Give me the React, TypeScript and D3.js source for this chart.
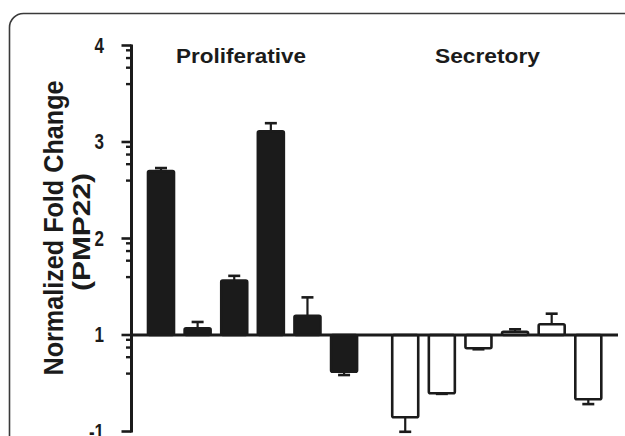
import React from "react";
import * as d3 from "d3";

// ---- data (axis units: tick positions 0..4 labelled -1,1,2,3,4) ----
const categories = ["P1", "P2", "P3", "P4", "P5", "P6", "S1", "S2", "S3", "S4", "S5", "S6"];
const groups = ["Proliferative", "Proliferative", "Proliferative", "Proliferative", "Proliferative", "Proliferative",
  "Secretory", "Secretory", "Secretory", "Secretory", "Secretory", "Secretory"];
const values = [2.70, 1.07, 1.563, 3.11, 1.20, 0.62, 0.147, 0.396, 0.862, 1.034, 1.111, 0.334];
const errors = [0.03, 0.065, 0.05, 0.085, 0.19, 0.035, 0.15, 0.006, 0.01, 0.025, 0.11, 0.05];
const slots = [0, 1, 2, 3, 4, 5, 6.67, 7.67, 8.67, 9.67, 10.67, 11.67];
const tickValues = [0, 1, 2, 3, 4];
const tickLabels = ["-1", "1", "2", "3", "4"];
const minorOffsets = [0.05, 0.13, 0.23, 0.4];
const groupLabels = ["Proliferative", "Secretory"];
const baselineValue = 1;

export default function App() {
  const W = 625, H = 436;
  const y = d3.scaleLinear().domain([0, 4]).range([431.5, 45.5]);
  const x = d3.scaleLinear().domain([0, 11.67]).range([161, 588.3]);
  const bw = 26;
  const axisX = 131.5;
  const dark = "#1b1b1b";
  const font = "'Liberation Sans', Arial, sans-serif";

  const minorTicks: number[] = [];
  for (let t = 1; t < tickValues.length; t++) {
    for (const o of minorOffsets) minorTicks.push(tickValues[t] - o);
  }

  const y0 = y(baselineValue);

  return (
    <svg width={W} height={H} style={{ position: "absolute", left: 0, top: 0, background: "#fff" }}>
      {/* frame */}
      <rect x={9.5} y={13.5} width={660} height={480} rx={14} ry={14} fill="none" stroke="#3a3a3a" strokeWidth={1.6} />

      {/* bars */}
      {categories.map((c, i) => {
        const v = values[i];
        const cx = x(slots[i]);
        const up = v >= baselineValue;
        const yTop = up ? y(v) : y0;
        const yBot = up ? y0 : y(v);
        const black = groups[i] === "Proliferative";
        const eEnd = up ? y(v + errors[i]) : y(v - errors[i]);
        const eStart = y(v);
        return (
          <g key={c}>
            <line x1={cx} x2={cx} y1={eStart} y2={eEnd} stroke={dark} strokeWidth={2.2} />
            <line x1={cx - 6} x2={cx + 6} y1={eEnd} y2={eEnd} stroke={dark} strokeWidth={2.6} />
            <rect x={cx - bw / 2} y={yTop} width={bw} height={Math.max(0.5, yBot - yTop)}
              fill={black ? dark : "#fff"} stroke={dark} strokeWidth={2.6} rx={1.5} />
          </g>
        );
      })}

      {/* baseline */}
      <line x1={axisX} x2={618} y1={y0} y2={y0} stroke={dark} strokeWidth={3} />

      {/* y axis */}
      <line x1={axisX} x2={axisX} y1={y(4) - 1} y2={y(0) + 1} stroke={dark} strokeWidth={3} />
      {tickValues.map((t) => (
        <line key={"M" + t} x1={axisX - 10} x2={axisX} y1={y(t)} y2={y(t)} stroke={dark} strokeWidth={2.6} />
      ))}
      {minorTicks.map((t, i) => (
        <line key={"m" + i} x1={axisX - 5.5} x2={axisX} y1={y(t)} y2={y(t)} stroke={dark} strokeWidth={2.4} />
      ))}
      {tickValues.map((t, i) => (
        <text key={"l" + t} x={104} y={y(t)} textAnchor="end" dominantBaseline="central"
          fontFamily={font} fontWeight="bold" fontSize={17} fill={dark}
          transform={`translate(0 ${y(t)}) scale(1 1.25) translate(0 ${-y(t)})`}>
          {tickLabels[i]}
        </text>
      ))}

      {/* y label */}
      <g transform="translate(63 228) rotate(-90)">
        <text x={0} y={0} textAnchor="middle" fontFamily={font} fontWeight="bold" fontSize={27} fill={dark}
          textLength={295} lengthAdjust="spacingAndGlyphs">
          Normalized Fold Change
        </text>
      </g>
      <g transform="translate(89.5 232) rotate(-90)">
        <text x={0} y={0} textAnchor="middle" fontFamily={font} fontWeight="bold" fontSize={24} fill={dark}
          textLength={118} lengthAdjust="spacingAndGlyphs">
          (PMP22)
        </text>
      </g>

      {/* group labels */}
      <text x={241} y={63} textAnchor="middle" fontFamily={font} fontWeight="bold" fontSize={20.5} fill={dark}
        textLength={130} lengthAdjust="spacingAndGlyphs">
        {groupLabels[0]}
      </text>
      <text x={487.5} y={63} textAnchor="middle" fontFamily={font} fontWeight="bold" fontSize={20.5} fill={dark}
        textLength={105} lengthAdjust="spacingAndGlyphs">
        {groupLabels[1]}
      </text>
    </svg>
  );
}
